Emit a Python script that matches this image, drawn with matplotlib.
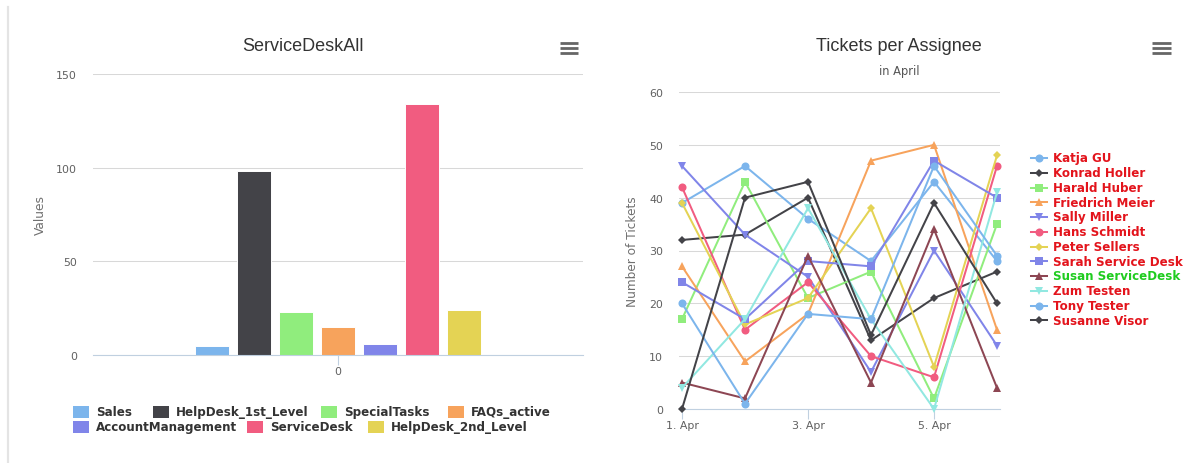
import matplotlib
matplotlib.use("Agg")
import matplotlib.pyplot as plt
from matplotlib.lines import Line2D
from matplotlib.patches import Rectangle

# Highcharts falls back to a wide sans for labels; titles look Arial-like
plt.rcParams["font.family"] = ["DejaVu Sans"]
TITLE_FONT = ["Liberation Sans", "DejaVu Sans"]

# Canvas size in pixels
W, H = 1188, 464

# Left chart: one category, one column per queue
BAR_CATEGORIES = ["0"]
BAR_NAMES = [
    "Sales",
    "HelpDesk_1st_Level",
    "SpecialTasks",
    "FAQs_active",
    "AccountManagement",
    "ServiceDesk",
    "HelpDesk_2nd_Level",
]
BAR_VALUES = [5, 98, 23, 15, 6, 134, 24]
BAR_COLORS = ["#7cb5ec", "#434348", "#90ed7d", "#f7a35c", "#8085e9", "#f15c80", "#e4d354"]

# Right chart: tickets per assignee and day of April
DAYS = [1, 2, 3, 4, 5, 6]
DAY_TICKS = [1, 3, 5]
DAY_LABELS = ["1. Apr", "3. Apr", "5. Apr"]
ASSIGNEES = [
    "Katja GU",
    "Konrad Holler",
    "Harald Huber",
    "Friedrich Meier",
    "Sally Miller",
    "Hans Schmidt",
    "Peter Sellers",
    "Sarah Service Desk",
    "Susan ServiceDesk",
    "Zum Testen",
    "Tony Tester",
    "Susanne Visor",
]
KATJA = [39, 46, 36, 28, 43, 28]
KONRAD = [32, 33, 40, 13, 21, 26]
HARALD = [17, 43, 21, 26, 2, 35]
FRIEDRICH = [27, 9, 18, 47, 50, 15]
SALLY = [46, 33, 25, 7, 30, 12]
HANS = [42, 15, 24, 10, 6, 46]
PETER = [39, 16, 21, 38, 8, 48]
SARAH = [24, 17, 28, 27, 47, 40]
SUSAN = [5, 2, 29, 5, 34, 4]
ZUM = [4, 17, 38, 17, 0, 41]
TONY = [20, 1, 18, 17, 46, 29]
SUSANNE = [0, 40, 43, 14, 39, 20]
LINE_COLORS = [
    "#7cb5ec", "#434348", "#90ed7d", "#f7a35c", "#8085e9", "#f15c80",
    "#e4d354", "#8085e8", "#8d4653", "#91e8e1", "#7cb5ec", "#434348",
]
LEGEND_TEXT_COLORS = ["#e3141c"] * 8 + ["#1fcc1f"] + ["#e3141c"] * 3

MARKERS = ["o", "D", "s", "^", "v"]
MARKER_SIZES = {"o": 5.8, "D": 4.0, "s": 5.6, "^": 6.0, "v": 6.0}

GRID = "#d8d8d8"
AXIS = "#c0d0e0"
LABEL = "#606060"
TITLE = "#333333"


def fx(px):
    return px / W


def fy(py):
    return 1 - py / H


def axes_at(left, top, right, bottom):
    return fig.add_axes([fx(left), fy(bottom), fx(right) - fx(left), fy(top) - fy(bottom)])


def style_axes(ax):
    for side in ["top", "right", "left"]:
        ax.spines[side].set_visible(False)
    ax.spines["bottom"].set_color(AXIS)
    ax.spines["bottom"].set_linewidth(0.8)
    ax.grid(axis="y", color=GRID, linewidth=0.75)
    ax.set_axisbelow(True)
    ax.tick_params(axis="y", length=0, pad=11.5, labelsize=7.9, labelcolor=LABEL)
    ax.tick_params(axis="x", direction="out", length=7.2, width=0.8, color=AXIS, pad=1,
                   labelsize=7.9, labelcolor=LABEL)


def hamburger(x0, x1, ys):
    for y in ys:
        fig.add_artist(Line2D([fx(x0), fx(x1)], [fy(y), fy(y)], color="#666666", linewidth=2.0,
                              solid_capstyle="butt"))


fig = plt.figure(figsize=(W / 100, H / 100), dpi=100)

# page border on the left
fig.add_artist(Line2D([fx(8), fx(8)], [fy(8), 0], color="#e4e4e4", linewidth=1.6))

# ---- left: ServiceDeskAll column chart ----
ax1 = axes_at(93, 75, 583, 356)
style_axes(ax1)
n = len(BAR_VALUES)
group = 0.6  # groupPadding 0.2 on each side
slot = group / n
for i, (name, value, color) in enumerate(zip(BAR_NAMES, BAR_VALUES, BAR_COLORS)):
    x = -group / 2 + slot * (i + 0.5)
    ax1.bar(x, value, width=slot * 0.8, color=color, edgecolor="white", linewidth=0.7, label=name)
ax1.set_xlim(-0.5, 0.5)
ax1.set_ylim(0, 150)
ax1.set_yticks([0, 50, 100, 150])
ax1.set_xticks(range(len(BAR_CATEGORIES)))
ax1.set_xticklabels(BAR_CATEGORIES)

fig.text(fx(303), fy(47), "ServiceDeskAll", ha="center", va="center", fontsize=13, color=TITLE,
         family=TITLE_FONT)
fig.text(fx(40), fy(215), "Values", ha="center", va="center", rotation=90, fontsize=8.8, color="#707070")
hamburger(560, 578, [43.5, 48.5, 53.5])

# legend laid out like the original (two flowing rows)
legend_slots = [(73, 413), (153, 413), (321, 413), (448, 413), (73, 428), (247, 428), (368, 428)]
for (lx, ly), name, color in zip(legend_slots, BAR_NAMES, BAR_COLORS):
    fig.add_artist(Rectangle((fx(lx), fy(ly + 6)), 16 / W, 12 / H, transform=fig.transFigure,
                             facecolor=color, edgecolor="none"))
    fig.text(fx(lx + 23), fy(ly), name, ha="left", va="center", fontsize=8.6,
             fontweight="bold", color=TITLE)

# ---- right: Tickets per Assignee line chart ----
ax2 = axes_at(679, 93, 1000, 410)
style_axes(ax2)
series = [KATJA, KONRAD, HARALD, FRIEDRICH, SALLY, HANS, PETER, SARAH, SUSAN, ZUM, TONY, SUSANNE]
for i, (name, values, color) in enumerate(zip(ASSIGNEES, series, LINE_COLORS)):
    m = MARKERS[i % len(MARKERS)]
    ax2.plot(DAYS, values, color=color, linewidth=1.45, marker=m, markersize=MARKER_SIZES[m],
             markeredgewidth=0, label=name, zorder=3 + i, clip_on=False)
ax2.set_xlim(1 - 3 / 63, 6 + 3 / 63)
ax2.set_ylim(0, 60)
ax2.set_yticks(range(0, 61, 10))
ax2.set_xticks(DAY_TICKS)
ax2.set_xticklabels(DAY_LABELS)

fig.text(fx(899), fy(47), "Tickets per Assignee", ha="center", va="center", fontsize=13, color=TITLE,
         family=TITLE_FONT)
fig.text(fx(899), fy(72), "in April", ha="center", va="center", fontsize=8.3, color="#555555")
fig.text(fx(633), fy(252), "Number of Tickets", ha="center", va="center", rotation=90,
         fontsize=8.7, color="#707070")
hamburger(1152, 1171, [44, 49, 54])

# vertical legend with line + marker symbols
for i, (name, color, tcolor) in enumerate(zip(ASSIGNEES, LINE_COLORS, LEGEND_TEXT_COLORS)):
    y = 159 + i * 14.75
    m = MARKERS[i % len(MARKERS)]
    fig.add_artist(Line2D([fx(1031), fx(1047)], [fy(y), fy(y)], color=color, linewidth=1.45))
    fig.add_artist(Line2D([fx(1039)], [fy(y)], color=color, marker=m, markersize=MARKER_SIZES[m],
                          markeredgewidth=0, linestyle="none"))
    fig.text(fx(1053), fy(y), name, ha="left", va="center", fontsize=8.6, fontweight="bold",
             color=tcolor)

fig.savefig("out.png", dpi=100)
